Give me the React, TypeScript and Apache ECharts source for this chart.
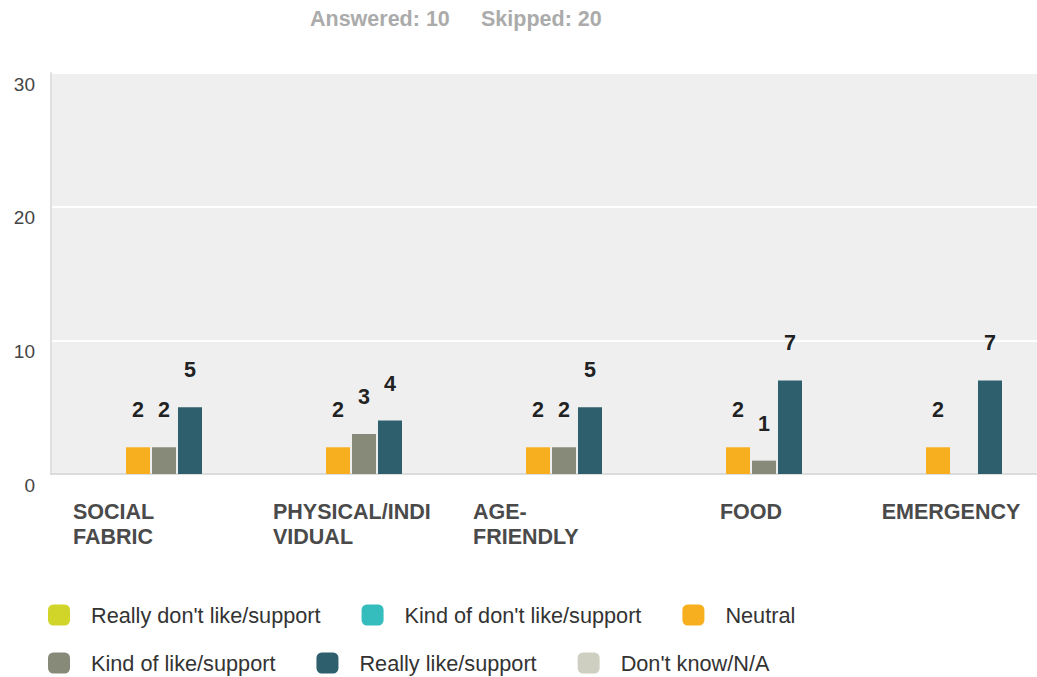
import React, { useEffect, useRef } from "react";
import * as echarts from "echarts";

const categories = ["SOCIAL\nFABRIC", "PHYSICAL/INDI\nVIDUAL", "AGE-\nFRIENDLY", "FOOD", "EMERGENCY"];
const seriesNames = [
  "Really don't like/support",
  "Kind of don't like/support",
  "Neutral",
  "Kind of like/support",
  "Really like/support",
  "Don't know/N/A",
];
const seriesColors = ["#d1d52a", "#35bcbd", "#f7af20", "#888a79", "#2e5f6c", "#cfcfc1"];
const reallyDontLike = [0, 0, 0, 0, 0];
const kindOfDontLike = [0, 0, 0, 0, 0];
const neutral = [2, 2, 2, 2, 2];
const kindOfLike = [2, 3, 2, 1, 0];
const reallyLike = [5, 4, 5, 7, 7];
const dontKnow = [0, 0, 0, 0, 0];
const seriesValues = [reallyDontLike, kindOfDontLike, neutral, kindOfLike, reallyLike, dontKnow];
const yTicks = { min: 0, max: 30, interval: 10 };
const answered = 10;
const skipped = 20;

const FONT = "'Liberation Sans', Arial, sans-serif";

export default function App() {
  const ref = useRef<HTMLDivElement>(null);
  useEffect(() => {
    if (!ref.current) return;
    const chart = echarts.init(ref.current, null, { renderer: "svg" });
    const legendBase = {
      left: 48,
      padding: 0,
      itemWidth: 22,
      itemHeight: 21,
      itemGap: 41,
      icon: "roundRect",
      selectedMode: false,
      textStyle: { fontSize: 21.7, color: "#333", fontFamily: FONT, padding: [0, 0, 0, 16] },
    };
    chart.setOption({
      animation: false,
      backgroundColor: "#ffffff",
      textStyle: { fontFamily: FONT },
      graphic: [
        {
          type: "text",
          left: 310,
          top: 8,
          style: { text: `Answered: ${answered}`, fontSize: 21.5, fontWeight: "bold", fill: "#ababab", fontFamily: FONT },
        },
        {
          type: "text",
          left: 481,
          top: 8,
          style: { text: `Skipped: ${skipped}`, fontSize: 21.5, fontWeight: "bold", fill: "#ababab", fontFamily: FONT },
        },
      ],
      legend: [
        { ...legendBase, data: seriesNames.slice(0, 3), top: 604 },
        { ...legendBase, data: seriesNames.slice(3, 6), top: 652 },
      ],
      grid: {
        left: 51,
        top: 73,
        right: 0,
        height: 401,
        show: true,
        backgroundColor: "#efefef",
        borderWidth: 0,
        containLabel: false,
      },
      xAxis: {
        type: "category",
        data: categories,
        axisTick: { show: false },
        axisLine: { show: true, lineStyle: { color: "#dcdcdc", width: 2 } },
        axisLabel: {
          interval: 0,
          margin: 25,
          width: 156,
          verticalAlign: "top",
          formatter: (v: string) =>
            v.includes("\n")
              ? v.split("\n").map((s) => `{l|${s}}`).join("\n")
              : `{c|${v}}`,
          rich: {
            l: { align: "left", fontSize: 21.5, fontWeight: "bold", color: "#4a4a4a", lineHeight: 25, fontFamily: FONT },
            c: { align: "center", fontSize: 21.5, fontWeight: "bold", color: "#4a4a4a", lineHeight: 25, fontFamily: FONT },
          },
        },
      },
      yAxis: {
        type: "value",
        min: yTicks.min,
        max: yTicks.max,
        interval: yTicks.interval,
        axisLine: { show: true, lineStyle: { color: "#e0e0e0", width: 2 } },
        axisTick: { show: false },
        splitLine: { show: true, lineStyle: { color: "#ffffff", width: 2 } },
        axisLabel: {
          margin: 16,
          fontSize: 19,
          lineHeight: 22,
          color: "#444",
          fontFamily: FONT,
          verticalAlign: "top",
        },
      },
      series: seriesNames.map((name, i) => ({
        name,
        type: "bar",
        data: seriesValues[i],
        barWidth: 24,
        barGap: "8.33%",
        itemStyle: { color: seriesColors[i] },
        label: {
          show: true,
          position: "top",
          distance: 26,
          fontSize: 21.5,
          fontWeight: "bold",
          color: "#222",
          fontFamily: FONT,
          formatter: (p: any) => (p.value ? String(p.value) : ""),
        },
      })),
    });
    return () => chart.dispose();
  }, []);
  return (
    <div style={{ position: "absolute", left: 0, top: 0, width: 1037, height: 677, overflow: "hidden" }}>
      <div ref={ref} style={{ width: 1051, height: 677 }} />
    </div>
  );
}
